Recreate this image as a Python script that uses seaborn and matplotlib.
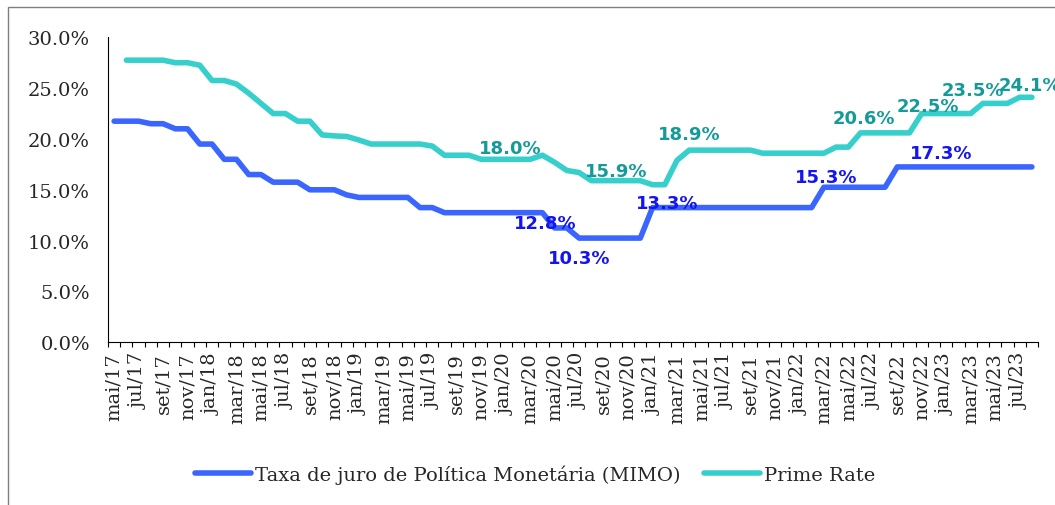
import numpy as np
import pandas as pd
import matplotlib.pyplot as plt
import matplotlib.patches as mpatches
import seaborn as sns

# months mai/17 .. ago/23
month_abbr = ['jan', 'fev', 'mar', 'abr', 'mai', 'jun',
              'jul', 'ago', 'set', 'out', 'nov', 'dez']
months = []
for k in range(4, 4 + 76):
    months.append(f"{month_abbr[k % 12]}/{17 + k // 12}")

# Taxa de juro de Politica Monetaria (MIMO), %
mimo = ([21.75] * 3 + [21.5] * 2 + [21.0] * 2 + [19.5] * 2 + [18.0] * 2
        + [16.5] * 2 + [15.75] * 3 + [15.0] * 3 + [14.5] + [14.25] * 5
        + [13.25] * 2 + [12.75] * 9 + [11.25] * 2 + [10.25] * 6
        + [13.25] * 14 + [15.25] * 6 + [17.25] * 12)

# Prime Rate, % (no value for mai/17)
prime = ([np.nan] + [27.75] * 4 + [27.5] * 2 + [27.25] + [25.75] * 2
         + [25.4, 24.5, 23.5] + [22.5] * 2 + [21.75] * 2
         + [20.4, 20.3, 20.25, 19.9] + [19.5] * 5 + [19.3] + [18.4] * 3
         + [18.0] * 5 + [18.4, 17.7, 16.9, 16.7] + [15.9] * 5 + [15.5] * 2
         + [17.9] + [18.9] * 6 + [18.6] * 6 + [19.2] * 2 + [20.6] * 5
         + [22.5] * 5 + [23.5] * 3 + [24.1] * 2)

# data labels: (month, offset in px, +down)
mimo_labels = [('abr/20', (3, -10)), ('jul/20', (0, -20)), ('fev/21', (2, 5)),
               ('mar/22', (2, 10)), ('dez/22', (7, 14))]
prime_labels = [('jan/20', (5, 11)), ('out/20', (0, 10)), ('abr/21', (0, 16)),
                ('jun/22', (3, 15)), ('nov/22', (6, 8)), ('abr/23', (-10, 13)),
                ('jul/23', (10, 12))]


def pct(v):
    # round half up, like Excel
    return f"{v + 1e-9:.1f}%"


df = pd.DataFrame({'idx': np.arange(len(months)), 'mes': months,
                   'mimo': mimo, 'prime': prime})

sns.set_style('white')
plt.rcParams['font.family'] = ['DejaVu Serif']

W, H = 1055, 506
fig = plt.figure(figsize=(W / 100, H / 100), dpi=100)
ax = fig.add_axes([108 / W, 1 - 343.3 / H, (1038 - 108) / W, (343.3 - 38.3) / H])

blue = '#3A66FF'
cyan = '#36CFCC'
sns.lineplot(data=df, x='idx', y='mimo', ax=ax, color=blue, linewidth=4,
             label='Taxa de juro de Política Monetária (MIMO)',
             solid_capstyle='round', solid_joinstyle='round')
sns.lineplot(data=df.dropna(), x='idx', y='prime', ax=ax, color=cyan, linewidth=4,
             label='Prime Rate', solid_capstyle='round', solid_joinstyle='round')

# data labels
px = 72 / 100
for m, (dx, dy) in mimo_labels:
    i = months.index(m)
    ax.annotate(pct(mimo[i]), (i, mimo[i]), xytext=(dx * px, dy * px),
                textcoords='offset points', ha='center', va='center',
                fontsize=13, fontweight='bold', color='#1414F0',
                family='DejaVu Sans')
for m, (dx, dy) in prime_labels:
    i = months.index(m)
    ax.annotate(pct(prime[i]), (i, prime[i]), xytext=(dx * px, dy * px),
                textcoords='offset points', ha='center', va='center',
                fontsize=13, fontweight='bold', color='#159A9A',
                family='DejaVu Sans', annotation_clip=False)

ax.set_xlim(-0.5, len(months) - 0.5)
ax.set_ylim(0, 30)
ax.set_yticks(np.arange(0, 31, 5))
ax.set_yticklabels([f"{v:.1f}%" for v in np.arange(0, 31, 5)])
ax.set_xticks(np.arange(0, len(months), 2))
ax.set_xticklabels(months[::2], rotation=90)
ax.set_xticks(np.arange(-0.5, len(months), 1), minor=True)
ax.tick_params(axis='x', which='major', length=0, pad=7, labelsize=14)
ax.tick_params(axis='x', which='minor', length=3.5, width=0.8, color='black',
               direction='out', bottom=True)
ax.tick_params(axis='y', length=0, pad=13, labelsize=14)
ax.set_xlabel('')
ax.set_ylabel('')
for s in ['top', 'right']:
    ax.spines[s].set_visible(False)
for s in ['left', 'bottom']:
    ax.spines[s].set_color('black')
    ax.spines[s].set_linewidth(0.8)

ax.legend(loc='center', bbox_to_anchor=(535 / W, 1 - 475 / H),
          bbox_transform=fig.transFigure, ncol=2, frameon=False,
          fontsize=14, handlelength=2.9, handletextpad=0.2, columnspacing=1.2)

# chart area border
fig.patches.append(mpatches.Rectangle((7.5 / W, -0.1), 1.2, 1.1 - 7.5 / H,
                                      transform=fig.transFigure, fill=False,
                                      edgecolor='#7f7f7f', linewidth=1.0))

fig.savefig('out.png', dpi=100)
